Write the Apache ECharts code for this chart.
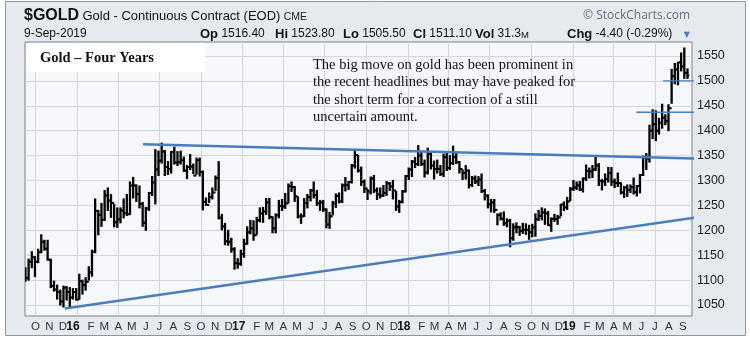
<!DOCTYPE html>
<html>
<head>
<meta charset="utf-8">
<script src="https://cdn.jsdelivr.net/npm/echarts@6/dist/echarts.min.js"></script>
<style>
  html, body { margin: 0; padding: 0; background: #ffffff; }
  #chart { width: 750px; height: 342px; }
</style>
</head>
<body>
<div id="chart"></div>
<script>
// Gold continuous contract, weekly OHLC bars (Sep 2015 – Sep 2019)
const priceTicks = [1050, 1100, 1150, 1200, 1250, 1300, 1350, 1400, 1450, 1500, 1550];
const monthLetters = ['J', 'F', 'M', 'A', 'M', 'J', 'J', 'A', 'S', 'O', 'N', 'D'];
const firstMonth = '2015-10-01';
const lastMonth = '2019-09-01';
const axisStart = '2015-09-08';
const axisEnd = '2019-09-21';

// mid-week date of the first bar; following bars are one week apart
const firstWeekMid = '2015-09-09';
const firstOpen = 1120;

const weekLow = [
  // 2015
  1098, 1100, 1125, 1107, 1135, 1155, 1160, 1140, 1085, 1078, 1062, 1050, 1046, 1060, 1046, 1062,
  // 2016
  1060, 1062, 1072, 1080, 1100, 1108, 1155, 1191, 1208, 1220, 1240, 1226, 1207, 1206, 1215, 1225,
  1230, 1232, 1265, 1258, 1245, 1208, 1200, 1240, 1270, 1253, 1310, 1335, 1310, 1312, 1315, 1333,
  1330, 1333, 1318, 1304, 1322, 1314, 1313, 1309, 1241, 1250, 1256, 1263, 1280, 1223, 1201, 1171,
  1170, 1156, 1122, 1124, 1130,
  // 2017
  1146, 1172, 1193, 1180, 1192, 1217, 1216, 1232, 1223, 1195, 1195, 1225, 1240, 1244, 1255, 1278,
  1258, 1225, 1214, 1228, 1245, 1259, 1265, 1250, 1240, 1238, 1205, 1204, 1231, 1246, 1255, 1256,
  1279, 1282, 1295, 1325, 1317, 1290, 1276, 1262, 1273, 1276, 1262, 1265, 1268, 1270, 1280, 1263,
  1240, 1236, 1255, 1277,
  // 2018
  1302, 1308, 1326, 1330, 1330, 1307, 1313, 1323, 1303, 1315, 1310, 1308, 1320, 1322, 1332, 1334,
  1315, 1302, 1303, 1285, 1288, 1294, 1290, 1276, 1261, 1245, 1237, 1236, 1211, 1221, 1210, 1207,
  1167, 1180, 1195, 1190, 1194, 1192, 1182, 1187, 1188, 1220, 1221, 1212, 1210, 1198, 1218, 1212,
  1229, 1240, 1242, 1260,
  // 2019
  1280, 1282, 1280, 1277, 1300, 1305, 1306, 1320, 1290, 1281, 1290, 1297, 1290, 1286, 1288, 1273,
  1266, 1268, 1276, 1273, 1269, 1275, 1310, 1322, 1337, 1384, 1380, 1393, 1405, 1412, 1400, 1455,
  1494, 1492, 1520, 1505, 1505
];

const weekHigh = [
  // 2015
  1125, 1142, 1157, 1147, 1162, 1191, 1180, 1180, 1142, 1098, 1090, 1080, 1088, 1087, 1085, 1083,
  // 2016
  1083, 1112, 1100, 1105, 1127, 1160, 1263, 1240, 1254, 1280, 1285, 1272, 1252, 1245, 1245, 1263,
  1272, 1297, 1306, 1291, 1289, 1256, 1246, 1276, 1308, 1362, 1359, 1375, 1360, 1338, 1358, 1367,
  1358, 1359, 1347, 1330, 1352, 1333, 1345, 1345, 1319, 1265, 1275, 1285, 1309, 1338, 1232, 1214,
  1200, 1184, 1165, 1143, 1160,
  // 2017
  1182, 1207, 1220, 1219, 1226, 1245, 1246, 1264, 1264, 1227, 1233, 1260, 1262, 1274, 1293, 1297,
  1288, 1267, 1233, 1264, 1272, 1282, 1297, 1280, 1260, 1260, 1243, 1236, 1258, 1273, 1275, 1293,
  1306, 1298, 1332, 1362, 1350, 1327, 1301, 1282, 1307, 1310, 1285, 1285, 1290, 1298, 1296, 1300,
  1278, 1260, 1280, 1310,
  // 2018
  1325, 1340, 1346, 1370, 1357, 1341, 1365, 1358, 1339, 1341, 1330, 1353, 1358, 1350, 1369, 1357,
  1338, 1321, 1330, 1321, 1308, 1309, 1308, 1313, 1282, 1271, 1262, 1262, 1233, 1235, 1237, 1223,
  1222, 1213, 1215, 1208, 1214, 1213, 1210, 1212, 1233, 1240, 1245, 1243, 1238, 1225, 1232, 1230,
  1252, 1257, 1266, 1286,
  // 2019
  1300, 1297, 1298, 1305, 1331, 1325, 1330, 1347, 1334, 1302, 1313, 1326, 1326, 1303, 1315, 1295,
  1288, 1291, 1291, 1305, 1290, 1312, 1349, 1354, 1411, 1442, 1440, 1425, 1453, 1432, 1452, 1523,
  1535, 1537, 1556, 1566, 1524
];

const weekClose = [
  // 2015
  1104, 1137, 1146, 1137, 1156, 1177, 1163, 1141, 1088, 1081, 1076, 1057, 1085, 1076, 1065, 1076,
  // 2016
  1061, 1098, 1090, 1097, 1116, 1157, 1239, 1231, 1221, 1270, 1260, 1255, 1216, 1222, 1240, 1235,
  1232, 1290, 1290, 1273, 1253, 1215, 1244, 1275, 1296, 1322, 1340, 1358, 1327, 1323, 1357, 1336,
  1337, 1341, 1320, 1327, 1328, 1310, 1341, 1317, 1257, 1251, 1267, 1276, 1305, 1225, 1208, 1178,
  1177, 1162, 1134, 1133, 1152,
  // 2017
  1173, 1196, 1204, 1190, 1220, 1234, 1238, 1256, 1227, 1204, 1230, 1249, 1248, 1254, 1289, 1287,
  1268, 1228, 1228, 1255, 1267, 1280, 1271, 1254, 1256, 1242, 1212, 1228, 1254, 1269, 1258, 1290,
  1291, 1297, 1330, 1351, 1320, 1297, 1284, 1278, 1304, 1280, 1272, 1270, 1275, 1294, 1288, 1280,
  1248, 1257, 1278, 1309,
  // 2018
  1322, 1338, 1333, 1350, 1333, 1316, 1353, 1330, 1323, 1323, 1313, 1347, 1325, 1335, 1347, 1337,
  1323, 1315, 1320, 1291, 1304, 1298, 1302, 1279, 1270, 1252, 1256, 1241, 1231, 1223, 1214, 1219,
  1184, 1206, 1206, 1199, 1201, 1201, 1196, 1206, 1222, 1229, 1236, 1234, 1210, 1223, 1223, 1226,
  1252, 1246, 1258, 1283,
  // 2019
  1286, 1290, 1282, 1304, 1319, 1318, 1322, 1330, 1299, 1298, 1303, 1315, 1298, 1295, 1295, 1276,
  1286, 1281, 1287, 1277, 1289, 1311, 1346, 1344, 1400, 1413, 1400, 1416, 1426, 1419, 1445, 1509,
  1523, 1537, 1529, 1516, 1511
];

// trend lines and levels drawn on the chart: [date, price]
const resistanceLine = [['2016-05-26', 1373], ['2019-11-15', 1343]];
const supportLine = [['2015-12-05', 1043], ['2019-11-10', 1231]];
const level1500 = [['2019-07-19', 1500], ['2019-10-01', 1500]];
const level1437 = [['2019-05-21', 1437], ['2019-11-14', 1437]];

function localDate(str, addDays) {
  const p = str.split('-').map(Number);
  return new Date(p[0], p[1] - 1, p[2] + (addDays || 0));
}
function toPoints(pairs) {
  return pairs.map(function (p) { return [localDate(p[0]).getTime(), p[1]]; });
}

// [time, open, close, low, high]
const bars = weekClose.map(function (c, i) {
  const open = i === 0 ? firstOpen : weekClose[i - 1];
  return [localDate(firstWeekMid, 7 * i).getTime(), open, c, weekLow[i], weekHigh[i]];
});

// month starts for labels, quarter starts for grid lines
const monthStarts = [];
const quarterStarts = [];
(function () {
  let d = localDate(firstMonth);
  const end = localDate(lastMonth).getTime();
  while (d.getTime() <= end) {
    monthStarts.push(d.getTime());
    if (d.getMonth() % 3 === 0) quarterStarts.push(d.getTime());
    d = new Date(d.getFullYear(), d.getMonth() + 1, 1);
  }
})();

const SANS = '"Liberation Sans", Arial, sans-serif';
const SERIF = '"Liberation Serif", "Times New Roman", serif';
const BLUE = '#4a7dbd';

const chart = echarts.init(document.getElementById('chart'), null, { renderer: 'canvas' });

// OHLC bar: high-low stem, open tick on the left, close tick on the right
function renderOhlc(params, api) {
  const t = api.value(0);
  const o = api.coord([t, api.value(1)]);
  const c = api.coord([t, api.value(2)]);
  const l = api.coord([t, api.value(3)]);
  const h = api.coord([t, api.value(4)]);
  const tick = 1.8;
  const stem = { stroke: '#000', lineWidth: 2.3 };
  const st = { stroke: '#000', lineWidth: 2 };
  return {
    type: 'group',
    children: [
      { type: 'line', shape: { x1: l[0], y1: l[1] + 0.5, x2: h[0], y2: h[1] - 0.5 }, style: stem },
      { type: 'line', shape: { x1: o[0] - tick, y1: o[1], x2: o[0], y2: o[1] }, style: st },
      { type: 'line', shape: { x1: c[0], y1: c[1], x2: c[0] + tick, y2: c[1] }, style: st }
    ]
  };
}

function statText(label, value, x) {
  return {
    type: 'text', x: x, y: 34,
    style: {
      text: '{b|' + label + '} {v|' + value + '}',
      verticalAlign: 'middle',
      rich: {
        b: { fontFamily: SANS, fontSize: 13, fontWeight: 'bold', fill: '#111' },
        v: { fontFamily: SANS, fontSize: 12, fill: '#111' }
      }
    }
  };
}

function trend(data, width) {
  return {
    type: 'line', data: toPoints(data), symbol: 'none', clip: false, z: 5,
    lineStyle: { color: BLUE, width: width }, silent: true
  };
}

chart.setOption({
  animation: false,
  backgroundColor: '#ffffff',
  grid: {
    left: 25, right: 58, top: 42, bottom: 26,
    show: true, backgroundColor: '#f5f7fa', borderColor: '#7c828a', borderWidth: 1,
    containLabel: false, outerBoundsMode: 'none'
  },
  xAxis: {
    type: 'value',
    min: localDate(axisStart).getTime(),
    max: localDate(axisEnd).getTime(),
    axisLine: { show: false },
    axisTick: { show: false, customValues: quarterStarts },
    splitLine: { show: true, lineStyle: { color: '#d2d7df', width: 1 } },
    axisLabel: {
      customValues: monthStarts,
      margin: 5,
      hideOverlap: false,
      formatter: function (value) {
        const d = new Date(value);
        const m = d.getMonth();
        return m === 0
          ? '{y|' + String(d.getFullYear()).slice(2) + '}'
          : '{m|' + monthLetters[m] + '}';
      },
      rich: {
        y: { fontFamily: SANS, fontSize: 12, fontWeight: 'bold', color: '#111', padding: [0, 8, 0, 0] },
        m: { fontFamily: SANS, fontSize: 11.5, color: '#333' }
      }
    }
  },
  yAxis: {
    type: 'value',
    position: 'right',
    min: 1028, max: 1578,
    axisLine: { show: false },
    axisTick: { show: false, customValues: priceTicks },
    splitLine: { show: true, lineStyle: { color: '#d2d7df', width: 1 } },
    axisLabel: {
      customValues: priceTicks,
      margin: 5,
      formatter: function (v) { return String(v); },
      fontFamily: SANS, fontSize: 12.5, color: '#222'
    }
  },
  graphic: [
    {
      type: 'rect', z: -10, silent: true,
      shape: { x: 5.5, y: 1.5, width: 740, height: 334 },
      style: { fill: '#e6e9ee', stroke: '#8f959c', lineWidth: 1 }
    },
    {
      type: 'rect', z: 10, silent: true,
      shape: { x: 26, y: 43, width: 179, height: 29 },
      style: { fill: '#ffffff' }
    },
    {
      type: 'text', z: 11, x: 40, y: 58,
      style: { text: 'Gold – Four Years', fontFamily: SERIF, fontSize: 14.5, fontWeight: 'bold', fill: '#111', verticalAlign: 'middle' }
    },
    {
      type: 'text', z: 11, x: 313, y: 56,
      style: {
        text: 'The big move on gold has been prominent in\nthe recent headlines but may have peaked for\nthe short term for a correction of a still\nuncertain amount.',
        fontFamily: SERIF, fontSize: 14.5, lineHeight: 17.5, fill: '#111', verticalAlign: 'top'
      }
    },
    {
      type: 'text', x: 24, y: 16,
      style: {
        text: '{t|$GOLD} {n|Gold - Continuous Contract (EOD)} {e|CME}',
        verticalAlign: 'middle',
        rich: {
          t: { fontFamily: SANS, fontSize: 16, fontWeight: 'bold', fill: '#111' },
          n: { fontFamily: SANS, fontSize: 13, fill: '#111' },
          e: { fontFamily: SANS, fontSize: 10.5, fill: '#222', padding: [2, 0, 0, 0] }
        }
      }
    },
    {
      type: 'text', x: 690, y: 16,
      style: { text: '© StockCharts.com', fontFamily: '"Open Sans", "DejaVu Sans", sans-serif', fontSize: 12, fill: '#6b6f74', align: 'right', verticalAlign: 'middle' }
    },
    {
      type: 'text', x: 24, y: 34,
      style: { text: '9-Sep-2019', fontFamily: SANS, fontSize: 12, fill: '#111', verticalAlign: 'middle' }
    },
    statText('Op', '1516.40', 200),
    statText('Hi', '1523.80', 275),
    statText('Lo', '1505.50', 343),
    statText('Cl', '1511.10', 413),
    {
      type: 'text', x: 475, y: 34,
      style: {
        text: '{b|Vol} {v|31.3}{s|M}',
        verticalAlign: 'middle',
        rich: {
          b: { fontFamily: SANS, fontSize: 13, fontWeight: 'bold', fill: '#111' },
          v: { fontFamily: SANS, fontSize: 12, fill: '#111' },
          s: { fontFamily: SANS, fontSize: 9.5, fill: '#111', padding: [2, 0, 0, 0] }
        }
      }
    },
    statText('Chg', '-4.40 (-0.29%)', 567),
    {
      type: 'text', x: 690, y: 35,
      style: { text: '▼', fontFamily: '"DejaVu Sans", sans-serif', fontSize: 8, fill: '#4a78c2', align: 'right', verticalAlign: 'middle' }
    }
  ],
  series: [
    {
      type: 'custom',
      name: '$GOLD',
      data: bars,
      dimensions: ['date', 'open', 'close', 'low', 'high'],
      encode: { x: 0, y: [1, 2, 3, 4] },
      renderItem: renderOhlc,
      clip: true,
      silent: true
    },
    trend(resistanceLine, 2.5),
    trend(supportLine, 2.5),
    trend(level1500, 1.3),
    trend(level1437, 1.3)
  ]
});
</script>
</body>
</html>
